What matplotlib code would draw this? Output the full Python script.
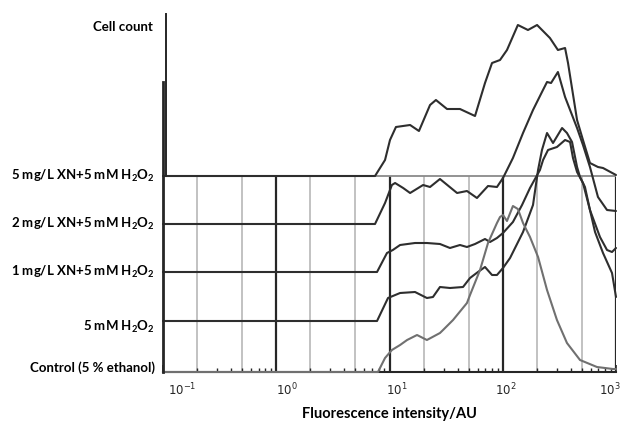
import matplotlib
matplotlib.use("Agg")
import matplotlib.pyplot as plt
import matplotlib.transforms as mtransforms

plt.rcParams['font.family'] = ['Lato', 'DejaVu Sans']
plt.rcParams['mathtext.fontset'] = 'custom'
plt.rcParams['mathtext.rm'] = 'Lato'
plt.rcParams['mathtext.bf'] = 'Lato:bold'
plt.rcParams['mathtext.it'] = 'Lato:italic'

# ---------------- data (fluorescence AU, cell count) ----------------
series_labels = ["5 mg/L XN+5 mM H$_\\mathbf{2}$O$_\\mathbf{2}$",
                 "2 mg/L XN+5 mM H$_\\mathbf{2}$O$_\\mathbf{2}$",
                 "1 mg/L XN+5 mM H$_\\mathbf{2}$O$_\\mathbf{2}$",
                 "5 mM H$_\\mathbf{2}$O$_\\mathbf{2}$",
                 "Control (5 % ethanol)"]

fluor_xn5 = [0.1, 7.45, 9.13, 10.1, 11.4, 15.2, 18.2, 22.8, 25.7, 32.2, 41.9, 56.9, 69.7, 80.4,
             94.6, 109, 136, 167, 201, 261, 307, 355, 377, 453, 511, 589, 693, 768, 1000]
count_xn5 = [0, 0, 16, 36, 49, 51, 45, 71, 76, 67, 67, 60, 93, 113,
             116, 126, 151, 146, 151, 138, 126, 128, 113, 56, 36, 13, 9, 8, 1]

fluor_xn2 = [0.1, 7.45, 9.13, 10.5, 11.2, 13.2, 15.2, 19.8, 22.8, 27.9, 39.5, 48.3, 59.2, 74.1,
             88.9, 100.5, 109, 123, 151, 185, 222, 246, 267, 307, 355, 409, 453, 511, 589, 693,
             833, 1000]
count_xn2 = [0, 0, 21, 39, 41, 36, 31, 39, 37, 45, 31, 33, 26, 38,
             37, 46, 54, 66, 91, 114, 132, 142, 141, 152, 127, 109, 96, 79, 57, 27,
             14, 13]

fluor_xn1 = [0.1, 7.76, 9.5, 10.7, 12.4, 16.8, 21.4, 27.9, 34.2, 41.9, 48.3, 56.9, 69.7, 77.2,
             88.9, 100.5, 123, 148, 174, 213, 227, 251, 301, 355, 393, 417, 453, 511, 589, 722,
             833, 922, 1000]
count_xn1 = [0, 0, 19, 22, 27, 29, 29, 28, 24, 27, 25, 28, 33, 30,
             34, 39, 50, 67, 84, 102, 112, 122, 125, 132, 130, 114, 100, 89, 62, 35,
             22, 20, 24]

fluor_h2o2 = [0.1, 7.76, 9.7, 12.4, 16.8, 21.4, 24.2, 27.9, 34.2, 44.6, 51.4, 60.4, 69.7, 80.4,
              88.9, 100.5, 116, 151, 185, 205, 222, 246, 278, 334, 369, 409, 453, 481, 532, 589,
              653, 768, 922, 1000]
count_h2o2 = [0, 0, 23, 28, 29, 23, 24, 34, 33, 34, 43, 49, 54, 46,
              46, 53, 63, 89, 116, 151, 171, 188, 178, 193, 188, 179, 154, 144, 134, 111,
              89, 68, 48, 24]

fluor_ctrl = [0.1, 7.91, 9.13, 10.5, 12.4, 14.3, 17.5, 21.4, 27.9, 29.7, 36.4, 48.3, 51.4, 63.0,
              74.1, 88.9, 94.6, 100.5, 109, 123, 136, 151, 174, 205, 246, 301, 369, 481, 679,
              941, 1000]
count_ctrl = [0, 0, 14, 22, 27, 32, 37, 32, 39, 42, 52, 69, 77, 102,
              129, 149, 155, 157, 151, 166, 163, 149, 135, 115, 82, 52, 29, 12, 5,
              3, 3]

minor_grid = [0.2, 0.5, 2, 5, 20, 50, 200, 500]
major_grid = [1, 10, 100, 1000]
tick_vals = [0.1, 1, 10, 100, 1000]
tick_labels = ["$\\mathregular{10^{-1}}$", "$\\mathregular{10^{0}}$", "$\\mathregular{10^{1}}$",
               "$\\mathregular{10^{2}}$", "$\\mathregular{10^{3}}$"]

# ---------------- layout ----------------
offsets = [196, 148, 100, 51, 0]
box_top = 196
label_shift_px = [5, 0, -4, -8, -17]
W, H = 620, 423
fig = plt.figure(figsize=(W / 100, H / 100), dpi=100)
ax = fig.add_axes([163 / W, 51 / H, 453 / W, 362 / H])
ax.set_xscale('log')
ax.set_xlim(0.1, 1000)
ax.set_ylim(0, 362)

dark = '#2e2e2e'
grey = '#707070'

# grid of the front panel
ax.vlines(minor_grid, 0, box_top, colors='#bdbdbd', lw=1.3, zorder=1)
ax.vlines(major_grid, 0, box_top, colors='#262626', lw=1.6, zorder=1)
ax.hlines(box_top, 0.1, 1000, colors='#8a8a8a', lw=1.3, zorder=1)

# left "3D" axis lines
ax.plot([0.1, 0.1], [0, 290], color='#262626', lw=2.0, clip_on=False, zorder=5)
ax.plot([0.1063, 0.1063], [196, 358], color='#262626', lw=1.4, clip_on=False, zorder=5)

# histograms
series = [(fluor_xn5, count_xn5), (fluor_xn2, count_xn2), (fluor_xn1, count_xn1),
          (fluor_h2o2, count_h2o2), (fluor_ctrl, count_ctrl)]
for i, (fx, cy) in enumerate(series):
    col = grey if i == 4 else dark
    ys = [offsets[i] + c for c in cy]
    ax.plot(fx, ys, color=col, lw=1.5, solid_joinstyle='round', solid_capstyle='round',
            zorder=3 + i * 0.1, clip_on=False)

# spines / ticks
for s in ['left', 'right', 'top']:
    ax.spines[s].set_visible(False)
ax.spines['bottom'].set_color('#262626')
ax.spines['bottom'].set_linewidth(1.5)
ax.set_yticks([])
ax.set_xticks(tick_vals)
ax.set_xticklabels(tick_labels, fontsize=8.5, family='DejaVu Sans')
ax.tick_params(axis='x', which='major', direction='in', length=5, width=1.2, pad=7,
               colors='#262626')
ax.tick_params(axis='x', which='minor', direction='in', length=3, width=1.0,
               colors='#262626')
for lab, sh in zip(ax.get_xticklabels(), label_shift_px):
    lab.set_horizontalalignment('left')
    lab.set_transform(lab.get_transform() +
                      mtransforms.ScaledTranslation(sh / 100, 0, fig.dpi_scale_trans))

ax.set_xlabel("Fluorescence intensity/AU", fontsize=10.5, fontweight='bold', labelpad=6)

# left labels
trans = mtransforms.blended_transform_factory(ax.transAxes, ax.transData)
ax.text(-0.023, 345, "Cell count", transform=trans, ha='right', va='center',
        fontsize=9.5, fontweight='bold')
label_y = [196, 148, 100, 45, 4]
for lab, y in zip(series_labels, label_y):
    ax.text(-0.018, y, lab, transform=trans, ha='right', va='center',
            fontsize=9.5, fontweight='bold')

fig.savefig("out.png", dpi=100)
